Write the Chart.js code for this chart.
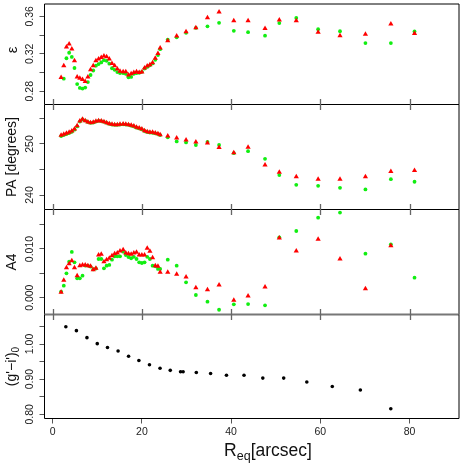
<!DOCTYPE html>
<html>
<head>
<meta charset="utf-8">
<script src="https://cdn.jsdelivr.net/npm/chart.js@4.4.1/dist/chart.umd.min.js"></script>
<style>
  body { margin: 0; background: #fff; }
  #wrap { position: relative; width: 463px; height: 463px; }
  #wrap canvas { position: absolute; left: 0; top: 0; }
</style>
</head>
<body>
<div id="wrap">
  <canvas id="pEps" width="463" height="463"></canvas>
  <canvas id="pPA" width="463" height="463"></canvas>
  <canvas id="pA4" width="463" height="463"></canvas>
  <canvas id="pCol" width="463" height="463"></canvas>
</div>
<script>
// equivalent radius of the isophotes [arcsec]
const radius = [1.9, 2.5, 3.1, 3.7, 4.3, 4.9, 5.5, 6.1, 6.7, 7.3, 7.9, 8.5, 9.1, 9.7, 10.3, 10.9, 11.5, 12.1, 12.7, 13.3,
  13.9, 14.5, 15.1, 15.8, 16.4, 17.0, 17.6, 18.2, 18.8, 19.4, 20.0, 20.6, 21.2, 21.8, 22.4, 23.0, 23.6, 24.1,
  25.8, 27.8, 29.9, 32.1, 34.7, 37.3, 40.6, 43.8, 47.6, 50.8, 54.6, 59.5, 64.4, 70.1, 75.8, 81.1];

// ellipticity
const epsRed = [0.2945, 0.3073, 0.3273, 0.3304, 0.3252, 0.3125, 0.2952, 0.2939, 0.2924, 0.2903, 0.2952, 0.3028, 0.3073,
  0.3125, 0.3145, 0.3159, 0.3176, 0.3169, 0.3145, 0.3097, 0.3073, 0.3038, 0.3014, 0.3007, 0.3007, 0.2973, 0.2986,
  0.3000, 0.3007, 0.3000, 0.3004, 0.3048, 0.3069, 0.3083, 0.3104, 0.3152, 0.3203, 0.3262,
  0.3338, 0.3389, 0.3435, 0.3479, 0.3586, 0.3648, 0.3552, 0.3552, 0.3469, 0.3562, 0.3552, 0.3431, 0.3394, 0.3410, 0.3518, 0.3417];
const epsGreen = [null, 0.2934, 0.3152, 0.3211, 0.3166, 0.3048, 0.2876, 0.2835, 0.2828, 0.2838, 0.2897, 0.2973, 0.3021,
  0.3073, 0.3090, 0.3107, 0.3131, 0.3125, 0.3094, 0.3045, 0.3028, 0.3004, 0.2993, 0.2993, 0.2986, 0.2949, 0.2952,
  0.2986, 0.2993, 0.2997, 0.3007, 0.3042, 0.3059, 0.3076, 0.3097, 0.3135, 0.3187, 0.3249,
  0.3352, 0.3376, 0.3424, 0.3476, 0.3493, 0.3531, 0.3445, 0.3431, 0.3394, 0.3528, 0.3583, 0.3462, 0.3441, 0.3314, 0.3314, 0.3438];

// position angle [degrees]
const paRed = [251.70, 251.90, 252.09, 252.29, 252.55, 252.94, 253.59, 254.51, 254.84, 254.58, 254.31, 254.18, 254.25,
  254.44, 254.58, 254.51, 254.38, 254.18, 253.99, 253.86, 253.79, 253.79, 253.86, 253.92, 253.86, 253.79, 253.66,
  253.53, 253.27, 253.14, 252.94, 252.61, 252.42, 252.29, 252.29, 252.16, 252.03, 251.83,
  251.57, 251.2, 250.8, 250.4, 250.2, 249.3, 248.3, 249.35, 245.9, 244.45, 243.6, 243.1, 243.1, 243.6, 244.6, 244.8];
const paGreen = [251.55, 251.75, 251.95, 252.15, 252.4, 252.8, 253.45, 254.4, 254.8, 254.6, 254.3, 254.15, 254.2,
  254.4, 254.55, 254.5, 254.35, 254.15, 253.95, 253.8, 253.75, 253.75, 253.8, 253.85, 253.8, 253.75, 253.6,
  253.45, 253.2, 253.05, 252.85, 252.55, 252.35, 252.25, 252.2, 252.1, 251.95, 251.75,
  251.3, 250.5, 250.3, 249.8, 250.4, 249.8, 248.2, 248.6, 247.1, 243.9, 242.0, 241.8, 241.4, 241.1, 243.1, 242.6];

// fourth cosine coefficient
const a4Red = [0.00111, 0.00357, 0.00617, 0.00699, 0.0076, 0.00617, 0.00452, 0.00658, 0.00672, 0.00672, 0.00658,
  0.00644, 0.00576, 0.00603, 0.00877, 0.00891, 0.0074, 0.0078, 0.0081, 0.00863, 0.00904, 0.00918, 0.0096, 0.00986,
  0.00918, 0.00904, 0.00891, 0.00918, 0.00932, 0.00877, 0.00877, 0.00877, 0.01014, 0.00953, 0.00822, 0.00658,
  0.00644, 0.00521, 0.00521, 0.0048, 0.00425, 0.00206, 0.00165, 0.00261, -0.0005, 0.00035, 0.0022, 0.01227,
  0.0096, 0.012, 0.00795, 0.00185, 0.01068, null];
const a4Green = [0.00125, 0.00247, 0.00501, 0.0074, 0.00939, 0.00727, 0.00398, 0.00398, 0.00452, 0.0066, 0.0066,
  0.0064, 0.0058, 0.006, 0.00795, 0.00795, 0.00603, 0.00658, 0.00672, 0.0078, 0.0085, 0.0085, 0.0085, 0.00945,
  0.00877, 0.00836, 0.0081, 0.0084, 0.00795, 0.00727, 0.00713, 0.00727, 0.0084, 0.00795, 0.00658, 0.00644,
  0.0059, 0.0059, 0.0078, 0.00658, 0.00316, 0.00055, -0.00082, -0.00247, -0.00136, -0.0013, -0.00157, 0.0124,
  0.0137, 0.01644, 0.01747, 0.00904, 0.01097, 0.00411];

// colour profile (g'-i')0
const colRadius = [2.96, 5.33, 7.69, 10.0, 12.29, 14.67, 17.02, 19.33, 21.7, 24.07, 26.36, 28.67, 29.24, 32.2,
  35.4, 38.96, 42.89, 47.1, 51.78, 56.96, 62.67, 68.96, 75.78];
const giColour = [1.049, 1.038, 1.018, 1.001, 0.990, 0.980, 0.965, 0.953, 0.941, 0.931, 0.925, 0.921, 0.921, 0.919,
  0.916, 0.911, 0.911, 0.903, 0.903, 0.892, 0.879, 0.869, 0.816];

const xTicks = [0, 20, 40, 60, 80];
const X_MIN = -1.822, X_MAX = 91.067;
const W = 463;
const FONT = "'Liberation Sans', Arial, Helvetica, sans-serif";

// frame, separator ticks, rotated y labels and titles (drawn the R way)
function panelPlugin(p) {
  return {
    id: 'panelFrame',
    afterDraw(chart) {
      const ctx = chart.ctx;
      const a = chart.chartArea;
      const xs = chart.scales.x, ys = chart.scales.y;
      ctx.save();
      ctx.strokeStyle = '#000';
      ctx.lineWidth = 1;
      ctx.beginPath();
      if (p.drawTop) { ctx.moveTo(a.left, a.top); ctx.lineTo(a.right, a.top); }
      ctx.moveTo(a.left, a.top); ctx.lineTo(a.left, a.bottom);
      ctx.moveTo(a.right, a.top); ctx.lineTo(a.right, a.bottom);
      ctx.stroke();
      ctx.beginPath();
      ctx.strokeStyle = p.bottomColor || '#000';
      ctx.lineWidth = p.bottomWidth || 1;
      ctx.moveTo(a.left, a.bottom); ctx.lineTo(a.right, a.bottom);
      ctx.stroke();

      if (p.crossTicks) {
        ctx.strokeStyle = '#666';
        ctx.lineWidth = 1.3;
        ctx.beginPath();
        xTicks.forEach(v => {
          const px = Math.round(xs.getPixelForValue(v)) + 0.5;
          ctx.moveTo(px, a.bottom - 5.5);
          ctx.lineTo(px, a.bottom + 5.5);
        });
        ctx.stroke();
      }

      ctx.fillStyle = '#222';
      ctx.font = '10.5px ' + FONT;
      ctx.textAlign = 'center';
      ctx.textBaseline = 'middle';
      p.yLabels.forEach(v => {
        ctx.save();
        ctx.translate(30, ys.getPixelForValue(v));
        ctx.rotate(-Math.PI / 2);
        ctx.fillText(v.toFixed(p.digits), 0, 0);
        ctx.restore();
      });

      // axis title, rotated
      ctx.fillStyle = '#111';
      ctx.textBaseline = 'alphabetic';
      ctx.save();
      ctx.translate(p.titleX, p.titleY);
      ctx.rotate(-Math.PI / 2);
      ctx.font = p.titleSize + 'px ' + FONT;
      if (p.titleSub) {
        const w1 = ctx.measureText(p.title).width;
        ctx.font = '10px ' + FONT;
        const w2 = ctx.measureText(p.titleSub).width;
        const x0 = -(w1 + w2) / 2;
        ctx.textAlign = 'left';
        ctx.font = p.titleSize + 'px ' + FONT;
        ctx.fillText(p.title, x0, 0);
        ctx.font = '10px ' + FONT;
        ctx.fillText(p.titleSub, x0 + w1, 3);
      } else {
        ctx.textAlign = 'center';
        ctx.fillText(p.title, 0, 0);
      }
      ctx.restore();

      if (p.xTitle) {
        // R_eq[arcsec]
        ctx.fillStyle = '#111';
        ctx.textAlign = 'left';
        ctx.font = '17.5px ' + FONT;
        const wR = ctx.measureText('R').width;
        const wB = ctx.measureText('[arcsec]').width;
        ctx.font = '12.5px ' + FONT;
        const wS = ctx.measureText('eq').width;
        const x0 = 268 - (wR + wS + wB) / 2;
        ctx.font = '17.5px ' + FONT;
        ctx.fillText('R', x0, 456);
        ctx.fillText('[arcsec]', x0 + wR + wS, 456);
        ctx.font = '12.5px ' + FONT;
        ctx.fillText('eq', x0 + wR, 459.5);
      }
      ctx.restore();
    }
  };
}

function makePanel(id, cfg) {
  const datasets = cfg.series.map(s => ({
    data: s.x.map((x, i) => ({ x: x, y: s.y[i] })).filter(pt => pt.y !== null),
    pointStyle: s.style,
    pointRadius: s.r,
    backgroundColor: s.color,
    borderColor: s.color,
    borderWidth: 0,
    showLine: false,
    clip: false
  }));

  return new Chart(document.getElementById(id), {
    type: 'scatter',
    data: { datasets: datasets },
    options: {
      responsive: false,
      animation: false,
      events: [],
      layout: { padding: { top: cfg.top, bottom: cfg.xTitle ? 0 : W - cfg.bottom, left: 0, right: W - 462.5 } },
      plugins: { legend: { display: false }, tooltip: { enabled: false } },
      scales: {
        x: {
          type: 'linear', min: X_MIN, max: X_MAX,
          display: !!cfg.xTitle,
          afterBuildTicks: s => { s.ticks = xTicks.map(v => ({ value: v })); },
          afterFit: s => { if (cfg.xTitle) s.height = W - cfg.bottom; },
          grid: { drawOnChartArea: false, tickLength: 5, color: '#555' },
          border: { display: false },
          ticks: { font: { family: FONT, size: 10.5 }, color: '#222', padding: 2, maxRotation: 0 }
        },
        y: {
          type: 'linear', min: cfg.yMin, max: cfg.yMax,
          afterBuildTicks: s => { s.ticks = cfg.yTicks.map(v => ({ value: v })); },
          afterFit: s => { s.width = 44.5; },
          grid: { drawOnChartArea: false, tickLength: 5, color: '#555' },
          border: { display: false },
          ticks: { display: false }
        }
      }
    },
    plugins: [panelPlugin(cfg)]
  });
}

const red = (y) => ({ x: radius, y: y, style: 'triangle', r: 3, color: '#ff0000' });
const green = (y) => ({ x: radius, y: y, style: 'circle', r: 1.9, color: '#11ee11' });

makePanel('pEps', {
  top: 0.5, bottom: 104.5, drawTop: true, crossTicks: true,
  yMin: 0.26574, yMax: 0.37323, yTicks: [0.28, 0.30, 0.32, 0.34, 0.36], yLabels: [0.28, 0.32, 0.36], digits: 2,
  title: 'ε', titleSize: 15, titleX: 17, titleY: 50,
  series: [red(epsRed), green(epsGreen)]
});

makePanel('pPA', {
  top: 104.5, bottom: 209.5, crossTicks: true,
  yMin: 237.157, yMax: 257.745, yTicks: [240, 245, 250, 255], yLabels: [240, 250], digits: 0,
  title: 'PA [degrees]', titleSize: 14, titleX: 15.5, titleY: 157,
  series: [red(paRed), green(paGreen)]
});

makePanel('pA4', {
  top: 209.5, bottom: 314.5, crossTicks: true, bottomColor: '#777', bottomWidth: 2,
  yMin: -0.00345, yMax: 0.018111, yTicks: [0, 0.005, 0.010, 0.015], yLabels: [0, 0.010], digits: 3,
  title: 'A4', titleSize: 14, titleX: 15.5, titleY: 262,
  series: [red(a4Red), green(a4Green)]
});

makePanel('pCol', {
  top: 314.5, bottom: 418.5, xTitle: true,
  yMin: 0.78805, yMax: 1.08393, yTicks: [0.80, 0.85, 0.90, 0.95, 1.00, 1.05], yLabels: [0.80, 0.90, 1.00], digits: 2,
  title: "(g'\u2212i')", titleSub: '0', titleSize: 14, titleX: 15.5, titleY: 366.5,
  series: [{ x: colRadius, y: giColour, style: 'circle', r: 1.8, color: '#000' }]
});
</script>
</body>
</html>
